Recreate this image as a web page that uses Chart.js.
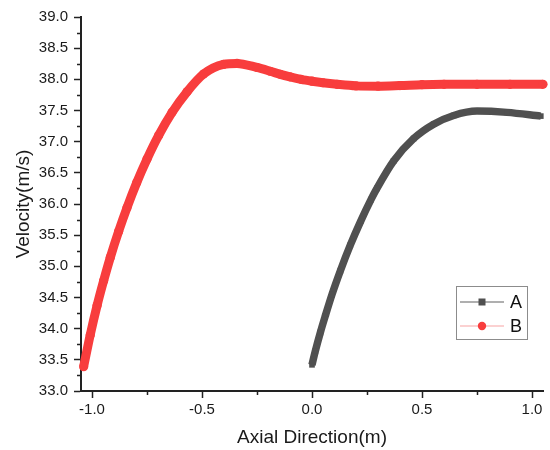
<!DOCTYPE html>
<html>
<head>
<meta charset="utf-8">
<title>Velocity along axial direction</title>
<script src="https://cdn.jsdelivr.net/npm/chart.js@4.4.1/dist/chart.umd.min.js"></script>
<style>
  html, body { margin: 0; padding: 0; background: #fff; }
  #wrap { width: 550px; height: 450px; }
</style>
</head>
<body>
<div id="wrap"><canvas id="velocityChart" width="550" height="450"></canvas></div>
<script>
// series A: axial position (m) / velocity (m/s)
const axialA = [0.0, 0.015, 0.038, 0.06, 0.091, 0.129, 0.174, 0.222, 0.268, 0.295,
  0.371, 0.462, 0.553, 0.644, 0.75, 0.886, 1.04];
const velocityA = [33.42, 33.64, 33.94, 34.20, 34.55, 34.93, 35.34, 35.73, 36.07, 36.25,
  36.69, 37.05, 37.28, 37.42, 37.49, 37.47, 37.41];

// series B
const axialB = [-1.038, -1.008, -0.977, -0.947, -0.917, -0.879, -0.841, -0.797, -0.75, -0.697,
  -0.636, -0.568, -0.493, -0.402, -0.341, -0.25, -0.19, -0.144, -0.1, -0.05,
  0.0, 0.05, 0.114, 0.2, 0.3, 0.4, 0.5, 0.6, 0.75, 0.9, 1.05];
const velocityB = [33.39, 33.90, 34.37, 34.77, 35.14, 35.56, 35.94, 36.34, 36.72, 37.10,
  37.47, 37.80, 38.085, 38.24, 38.255, 38.19, 38.13, 38.08, 38.04, 38.00,
  37.97, 37.945, 37.92, 37.895, 37.89, 37.90, 37.915, 37.92, 37.92, 37.92, 37.92];

const seriesLabels = ["A", "B"];
const xRange = [-1.05, 1.05];
const yRange = [33.0, 39.0];

const toPoints = (xs, ys) => xs.map((x, i) => ({ x: x, y: ys[i] }));

Chart.defaults.font.family = "'Liberation Sans', Arial, sans-serif";
Chart.defaults.color = "#1a1a1a";

// short minor ticks halfway between the labelled ones
const minorTicks = {
  id: "minorTicks",
  afterDraw(chart, args, opts) {
    const ctx = chart.ctx;
    const { x, y } = chart.scales;
    ctx.save();
    ctx.strokeStyle = opts.color;
    ctx.lineWidth = opts.width;
    ctx.beginPath();
    for (let v = -0.75; v < x.max; v += 0.5) {
      const px = Math.round(x.getPixelForValue(v)) + 0.5;
      ctx.moveTo(px, chart.chartArea.bottom);
      ctx.lineTo(px, chart.chartArea.bottom + opts.length);
    }
    for (let v = y.min + 0.25; v < y.max; v += 0.5) {
      const py = Math.round(y.getPixelForValue(v)) + 0.5;
      ctx.moveTo(chart.chartArea.left, py);
      ctx.lineTo(chart.chartArea.left - opts.length, py);
    }
    ctx.stroke();
    ctx.restore();
  }
};

// boxed legend with a line sample and marker for each series
const lineLegend = {
  id: "lineLegend",
  afterDraw(chart, args, opts) {
    const ctx = chart.ctx;
    const { left, top, width, height, rowGap, lineLen } = opts;
    ctx.save();
    ctx.strokeStyle = opts.borderColor;
    ctx.lineWidth = 1;
    ctx.strokeRect(left + 0.5, top + 0.5, width, height);
    chart.data.datasets.forEach((ds, i) => {
      const cy = top + opts.firstRow + i * rowGap;
      const x0 = left + 4;
      ctx.strokeStyle = opts.lineColors[i];
      ctx.lineWidth = 1.2;
      ctx.beginPath();
      ctx.moveTo(x0, cy);
      ctx.lineTo(x0 + lineLen, cy);
      ctx.stroke();
      const mx = x0 + lineLen / 2;
      ctx.fillStyle = ds.pointBackgroundColor;
      if (ds.pointStyle === "rect") {
        ctx.fillRect(mx - 3.5, cy - 3.5, 7, 7);
      } else {
        ctx.beginPath();
        ctx.arc(mx, cy, 4.2, 0, Math.PI * 2);
        ctx.fill();
      }
      ctx.fillStyle = "#111";
      ctx.font = opts.font;
      ctx.textBaseline = "middle";
      ctx.fillText(ds.label, x0 + lineLen + 6, cy + 1);
    });
    ctx.restore();
  }
};

new Chart(document.getElementById("velocityChart"), {
  type: "scatter",
  data: {
    datasets: [
      {
        label: seriesLabels[0],
        data: toPoints(axialA, velocityA),
        showLine: true,
        borderColor: "#505050",
        borderWidth: 7.5,
        cubicInterpolationMode: "monotone",
        pointStyle: "rect",
        pointRadius: 4,
        pointBackgroundColor: "#505050",
        pointBorderWidth: 0,
        clip: 8
      },
      {
        label: seriesLabels[1],
        data: toPoints(axialB, velocityB),
        showLine: true,
        borderColor: "#f83d3d",
        borderWidth: 9,
        cubicInterpolationMode: "monotone",
        pointStyle: "circle",
        pointRadius: 4.6,
        pointBackgroundColor: "#f83d3d",
        pointBorderWidth: 0,
        clip: 8
      }
    ]
  },
  options: {
    responsive: false,
    devicePixelRatio: 1,
    animation: false,
    layout: { padding: { left: 0, right: 7, top: 17, bottom: 0 } },
    plugins: {
      legend: { display: false },
      tooltip: { enabled: false },
      minorTicks: { color: "#222", width: 1.5, length: 4 },
      lineLegend: {
        left: 456, top: 286, width: 71, height: 53,
        firstRow: 16, rowGap: 24, lineLen: 44,
        borderColor: "#8c8c8c",
        lineColors: ["#606060", "#f7a3a3"],
        font: "18px 'Liberation Sans', Arial, sans-serif"
      }
    },
    scales: {
      x: {
        type: "linear",
        min: xRange[0],
        max: xRange[1],
        afterFit: (scale) => { scale.height = 59; },
        ticks: {
          stepSize: 0.5,
          includeBounds: false,
          padding: 3,
          maxRotation: 0,
          font: { size: 15 },
          color: "#1a1a1a",
          callback: (v) => v.toFixed(1)
        },
        grid: { drawOnChartArea: false, drawTicks: true, tickLength: 7, tickColor: "#222", tickWidth: 1.5 },
        border: { display: true, color: "#222", width: 2 },
        title: {
          display: true,
          text: "Axial Direction(m)",
          font: { size: 19 },
          color: "#1a1a1a",
          padding: { top: 0, bottom: 1 }
        }
      },
      y: {
        type: "linear",
        min: yRange[0],
        max: yRange[1],
        afterFit: (scale) => { scale.width = 81; },
        ticks: {
          stepSize: 0.5,
          includeBounds: false,
          padding: 6,
          font: { size: 15 },
          color: "#1a1a1a",
          callback: (v) => v.toFixed(1)
        },
        grid: { drawOnChartArea: false, drawTicks: true, tickLength: 7, tickColor: "#222", tickWidth: 1.5 },
        border: { display: true, color: "#222", width: 2 },
        title: {
          display: true,
          text: "Velocity(m/s)",
          font: { size: 19 },
          color: "#1a1a1a",
          padding: { top: 12, bottom: 0 }
        }
      }
    }
  },
  plugins: [minorTicks, lineLegend]
});
</script>
</body>
</html>
